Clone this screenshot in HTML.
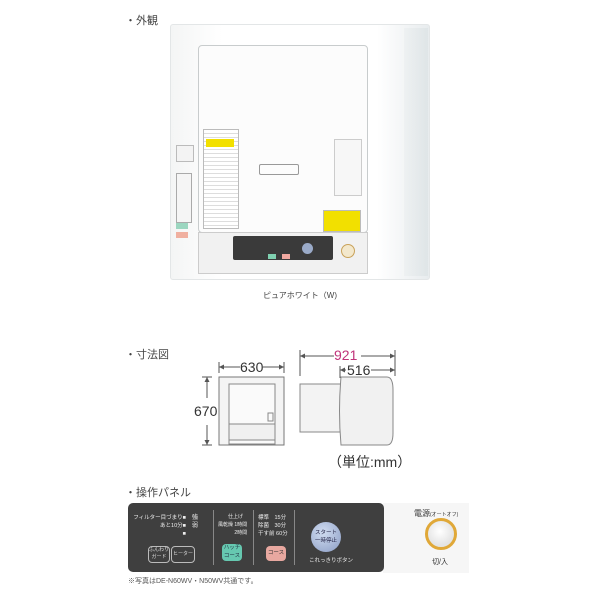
<!DOCTYPE html>
<html><head><meta charset="utf-8"><style>
body{margin:0;width:600px;height:600px;background:#fff;position:relative;overflow:hidden;font-family:"Liberation Sans","Noto Sans CJK JP",sans-serif;color:#333}
.a{position:absolute;white-space:nowrap}
.t{font-size:11px;color:#444}
.dk{color:#eee;font-size:6px;line-height:8px}
</style></head><body>
<div class="a t" style="left:125px;top:12px">・外観</div>
<div class="a" style="left:170px;top:24px;width:258px;height:254px;background:linear-gradient(90deg,#f4f5f5,#fff 20%,#fff 80%,#e8ecee);border:1px solid #e3e6e7;border-radius:3px"></div>
<div class="a" style="left:404px;top:28px;width:24px;height:248px;background:linear-gradient(90deg,#eef1f2,#dfe5e7);"></div>
<div class="a" style="left:198px;top:45px;width:168px;height:186px;background:#fcfcfc;border:1px solid #c8cccd;border-radius:4px"></div>
<div class="a" style="left:203px;top:129px;width:34px;height:98px;border:1px solid #bbb;background:repeating-linear-gradient(#fff 0 3px,#ddd 3px 4px)"></div>
<div class="a" style="left:206px;top:139px;width:28px;height:8px;background:#f2e000"></div>
<div class="a" style="left:259px;top:164px;width:38px;height:9px;border:1px solid #999;border-radius:2px"></div>
<div class="a" style="left:334px;top:139px;width:26px;height:55px;border:1px solid #ccc;background:#f7f7f7"></div>
<div class="a" style="left:323px;top:210px;width:36px;height:20px;background:#f2e000;border:1px solid #bbb"></div>
<div class="a" style="left:176px;top:145px;width:16px;height:15px;border:1px solid #bbb;background:#f3f3f3"></div>
<div class="a" style="left:176px;top:173px;width:14px;height:48px;border:1px solid #aaa;background:#f5f5f5"></div>
<div class="a" style="left:176px;top:223px;width:12px;height:6px;background:#9cd6c0"></div>
<div class="a" style="left:176px;top:232px;width:12px;height:6px;background:#f0b0a0"></div>
<div class="a" style="left:198px;top:232px;width:168px;height:40px;background:#f1f1f1;border:1px solid #ccc"></div>
<div class="a" style="left:233px;top:236px;width:100px;height:24px;background:#3a3a3a;border-radius:2px"></div>
<div class="a" style="left:268px;top:254px;width:8px;height:5px;background:#7fd0b0"></div>
<div class="a" style="left:282px;top:254px;width:8px;height:5px;background:#f0a8a0"></div>
<div class="a" style="left:302px;top:243px;width:11px;height:11px;border-radius:50%;background:#9aaac8"></div>
<div class="a" style="left:341px;top:244px;width:12px;height:12px;border-radius:50%;background:#f3e8cc;border:1px solid #c9a25a"></div>
<div class="a" style="left:0;width:600px;top:290px;text-align:center;font-size:8px;color:#444">ピュアホワイト（W)</div>

<div class="a t" style="left:125px;top:346px">・寸法図</div>
<svg class="a" style="left:0;top:0" width="600" height="600">
<g stroke="#555" fill="none" stroke-width="1">
<line x1="219" y1="367" x2="240" y2="367"/><line x1="263" y1="367" x2="284" y2="367"/>
<line x1="219" y1="362" x2="219" y2="373"/><line x1="284" y1="362" x2="284" y2="373"/>
<line x1="207" y1="377" x2="207" y2="398"/><line x1="207" y1="425" x2="207" y2="445"/>
<line x1="202" y1="377" x2="212" y2="377"/><line x1="202" y1="445" x2="212" y2="445"/>
<line x1="300" y1="356" x2="334" y2="356"/><line x1="361" y1="356" x2="395" y2="356"/>
<line x1="300" y1="350" x2="300" y2="376"/><line x1="395" y1="350" x2="395" y2="376"/>
<line x1="340" y1="370" x2="346" y2="370"/><line x1="371" y1="370" x2="395" y2="370"/>
<line x1="340" y1="366" x2="340" y2="378"/>
<rect x="219" y="377" width="65" height="68" fill="#f4f4f4" stroke="#777"/>
<rect x="229" y="384" width="46" height="60" fill="#fafafa" stroke="#888"/>
<rect x="229" y="424" width="46" height="16" fill="#f0f0f0" stroke="#888"/>
<rect x="268" y="413" width="5" height="8" stroke="#888"/>
<rect x="300" y="384" width="41" height="48" fill="#f3f3f3" stroke="#888"/>
<path d="M341 377 H387 Q393 377 393 390 V433 Q393 445 387 445 H341 Q338 411 341 377Z" fill="#f1f1f1" stroke="#888"/>
</g>
<g fill="#555"><path d="M219 367l5-2.5v5z"/><path d="M284 367l-5-2.5v5z"/><path d="M207 377l-2.5 5h5z"/><path d="M207 445l-2.5-5h5z"/><path d="M300 356l5-2.5v5z"/><path d="M395 356l-5-2.5v5z"/><path d="M340 370l5-2.5v5z"/><path d="M395 370l-5-2.5v5z"/></g>
</svg>
<div class="a" style="left:240px;top:359px;font-size:14px;color:#333">630</div>
<div class="a" style="left:194px;top:403px;font-size:14px;color:#333">670</div>
<div class="a" style="left:334px;top:347px;font-size:14px;color:#c0337a">921</div>
<div class="a" style="left:347px;top:362px;font-size:14px;color:#333">516</div>
<div class="a" style="left:328px;top:452px;font-size:14px;color:#333">（単位:mm）</div>

<div class="a t" style="left:125px;top:484px">・操作パネル</div>
<div class="a" style="left:383px;top:503px;width:86px;height:70px;background:#f6f6f6"></div>
<div class="a" style="left:128px;top:503px;width:256px;height:69px;background:#3f3f3f;border-radius:5px"></div>
<div class="a dk" style="left:130px;top:514px;text-align:right;width:56px;font-size:5.5px">フィルター目づまり■<br>あと10分■<br>■</div>
<div class="a dk" style="left:192px;top:514px">強<br>弱</div>
<div class="a" style="left:148px;top:546px;width:20px;height:15px;border:1px solid #bbb;border-radius:4px;font-size:5px;color:#ddd;text-align:center;line-height:7px">ふんわり<br>ガード</div>
<div class="a" style="left:171px;top:546px;width:22px;height:15px;border:1px solid #bbb;border-radius:4px;font-size:5px;color:#ddd;text-align:center;line-height:15px">ヒーター</div>
<div class="a" style="left:213px;top:510px;width:1px;height:55px;background:#888"></div>
<div class="a dk" style="left:218px;top:513px;font-size:5px">　　仕上げ<br>風乾燥 1時間<br>　　　 2時間</div>
<div class="a" style="left:222px;top:544px;width:20px;height:17px;background:#66c8b0;border-radius:4px;font-size:5.5px;color:#234;text-align:center;line-height:8px">ハッチ<br>コース</div>
<div class="a" style="left:253px;top:510px;width:1px;height:55px;background:#888"></div>
<div class="a dk" style="left:258px;top:514px;font-size:5.5px">標準　15分<br>除菌　30分<br>干す前 60分</div>
<div class="a" style="left:266px;top:546px;width:20px;height:15px;background:#e8a8a0;border-radius:4px;font-size:5.5px;color:#333;text-align:center;line-height:15px">コース</div>
<div class="a" style="left:294px;top:510px;width:1px;height:55px;background:#888"></div>
<div class="a" style="left:311px;top:522px;width:30px;height:30px;border-radius:50%;background:radial-gradient(circle at 40% 35%,#d0dcf0,#8a9cc4);font-size:5.5px;color:#224;text-align:center;line-height:8px;padding-top:7px;box-sizing:border-box">スタート<br>一時停止</div>
<div class="a dk" style="left:309px;top:557px;font-size:5.5px">これっきりボタン</div>
<div class="a" style="left:414px;top:508px;font-size:8px;color:#333">電源<span style="font-size:5px">(オートオフ)</span></div>
<div class="a" style="left:425px;top:518px;width:32px;height:32px;border-radius:50%;background:radial-gradient(circle at 45% 40%,#fff,#e4e4e4 65%);border:3px solid #e0a838;box-sizing:border-box"></div>
<div class="a" style="left:432px;top:557px;font-size:7px;color:#333">切/入</div>
<div class="a" style="left:128px;top:576px;font-size:7px;color:#555">※写真はDE-N60WV・N50WV共通です。</div>
</body></html>
